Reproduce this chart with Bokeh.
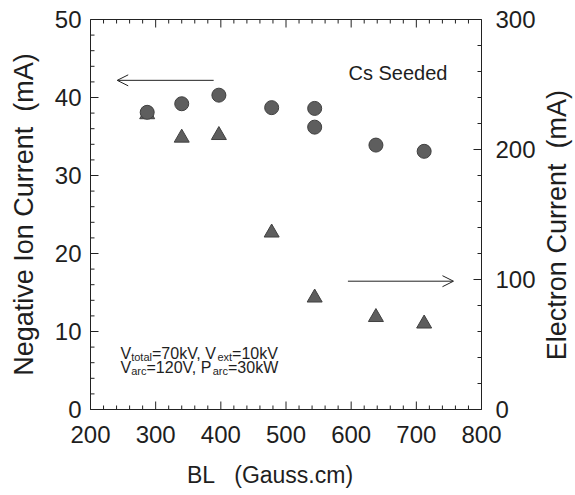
import math
from bokeh.plotting import figure
from bokeh.layouts import row
from bokeh.models import Range1d, LinearAxis, Label, Arrow, OpenHead, FixedTicker
from bokeh.core.properties import value
from bokeh.embed import file_html
from bokeh.resources import INLINE

# ---- data ----
bl_circle = [287, 340, 397, 478, 544, 544, 638, 712]
ion_current = [38.1, 39.2, 40.3, 38.7, 38.6, 36.2, 33.9, 33.1]
bl_triangle = [287, 340, 397, 478, 544, 638, 712]
electron_current = [227, 209, 211, 136, 86, 71, 66]

x_ticks = [200, 300, 400, 500, 600, 700, 800]
left_ticks = [0, 10, 20, 30, 40, 50]
right_ticks = [0, 100, 200, 300]

arrow_left = dict(x_start=389, x_end=241, y=42.2)       # ion-current units
arrow_right = dict(x_start=595, x_end=757, y=98.7)      # electron-current units

x_label = "BL\u00a0\u00a0\u00a0(Gauss.cm)"
left_label = "Negative Ion Current\u00a0\u00a0(mA)"
right_label = "Electron Current\u00a0\u00a0(mA)"

FONT = "Liberation Sans"
TXT = "#1e1e1e"
AX = "#222222"

W, H = 540, 495          # main plot; a 35px strip on the right holds the right label
STRIP_W = 35
B_LEFT, B_RIGHT, B_TOP, B_BOTTOM = 90, 59, 19, 86
FRAME_W = W - B_LEFT - B_RIGHT
FRAME_H = H - B_TOP - B_BOTTOM

p = figure(width=W, height=H,
           x_range=Range1d(x_ticks[0], x_ticks[-1]),
           y_range=Range1d(left_ticks[0], left_ticks[-1]),
           output_backend="svg", toolbar_location=None,
           min_border_left=B_LEFT, min_border_right=B_RIGHT,
           min_border_top=B_TOP, min_border_bottom=B_BOTTOM)
p.extra_y_ranges = {"elec": Range1d(right_ticks[0], right_ticks[-1])}
p.grid.visible = False
p.outline_line_color = AX
p.background_fill_color = "white"
p.border_fill_color = "white"


def minor(ticks, n=5):
    out = []
    for a, b in zip(ticks[:-1], ticks[1:]):
        step = (b - a) / n
        out += [a + k * step for k in range(1, n)]
    return out


def style(ax, ticks):
    ax.ticker = FixedTicker(ticks=ticks, minor_ticks=minor(ticks))
    ax.major_tick_in = 0
    ax.major_tick_out = 0
    ax.minor_tick_in = 0
    ax.minor_tick_out = 0
    ax.axis_line_color = AX
    ax.major_label_text_font = FONT
    ax.major_label_text_color = TXT
    ax.major_label_text_font_size = "24px"
    ax.axis_label_text_font = FONT
    ax.axis_label_text_font_style = "normal"
    ax.axis_label_text_color = TXT


xa = p.xaxis[0]
style(xa, x_ticks)
xa.major_label_standoff = 16
xa.axis_label = x_label + "\u00a0" * 5
xa.axis_label_text_font_size = "23px"
xa.axis_label_standoff = 16

ya = p.yaxis[0]
style(ya, left_ticks)
ya.major_label_standoff = 9
ya.axis_label = left_label
ya.axis_label_text_font_size = "27px"
ya.axis_label_standoff = 13

ra = LinearAxis(y_range_name="elec")
style(ra, right_ticks)
ra.major_label_standoff = 14
p.add_layout(ra, "right")

# ---- inward tick marks (drawn from the tick lists through the scales) ----
xpx = (x_ticks[-1] - x_ticks[0]) / FRAME_W          # data units per pixel
ypx = (left_ticks[-1] - left_ticks[0]) / FRAME_H
MAJ, MIN = 8, 4

for ticks, L in ((x_ticks, MAJ), (minor(x_ticks), MIN)):
    p.segment(x0=ticks, x1=ticks, y0=[left_ticks[0]] * len(ticks),
              y1=[left_ticks[0] + L * ypx] * len(ticks), line_color=AX, line_width=1)
    p.segment(x0=ticks, x1=ticks, y0=[left_ticks[-1]] * len(ticks),
              y1=[left_ticks[-1] - L * ypx] * len(ticks), line_color=AX, line_width=1)
for ticks, L in ((left_ticks, MAJ), (minor(left_ticks), MIN)):
    p.segment(x0=[x_ticks[0]] * len(ticks), x1=[x_ticks[0] + L * xpx] * len(ticks),
              y0=ticks, y1=ticks, line_color=AX, line_width=1)
for ticks, L in ((right_ticks, MAJ), (minor(right_ticks), MIN)):
    p.segment(x0=[x_ticks[-1]] * len(ticks), x1=[x_ticks[-1] - L * xpx] * len(ticks),
              y0=ticks, y1=ticks, y_range_name="elec", line_color=AX, line_width=1)

# ---- data marks ----
p.scatter(bl_triangle, electron_current, y_range_name="elec", marker="triangle",
          size=15, fill_color="#5e5e5e", line_color="#404040", line_width=1)
p.scatter(bl_circle, ion_current, marker="circle",
          size=14, fill_color="#5e5e5e", line_color="#404040", line_width=1)

# ---- arrows ----
p.add_layout(Arrow(end=OpenHead(size=11, line_width=1, line_color=AX),
                   x_start=arrow_left["x_start"], y_start=arrow_left["y"],
                   x_end=arrow_left["x_end"], y_end=arrow_left["y"],
                   line_width=1, line_color=AX))
p.add_layout(Arrow(end=OpenHead(size=11, line_width=1, line_color=AX),
                   x_start=arrow_right["x_start"], y_start=arrow_right["y"],
                   x_end=arrow_right["x_end"], y_end=arrow_right["y"],
                   y_range_name="elec", line_width=1, line_color=AX))

# ---- texts ----
p.add_layout(Label(x=258, y=337, x_units="screen", y_units="screen",
                   text="Cs Seeded", text_font=FONT, text_font_size="20px",
                   text_color=TXT, text_baseline="alphabetic"))

MAIN, SUB = 16, 11
line1 = [("V", 0.0, MAIN), ("total", 10.7, SUB), ("=70kV, V", 31.5, MAIN),
         ("ext", 96.9, SUB), ("=10kV", 111.6, MAIN)]
line2 = [("V", 0.0, MAIN), ("arc", 10.7, SUB), ("=120V, P", 26.0, MAIN),
         ("arc", 92.2, SUB), ("=30kW", 107.5, MAIN)]
for pieces, base in ((line1, 56), (line2, 42)):
    for txt, dx, sz in pieces:
        p.add_layout(Label(x=30 + dx, y=base - (3 if sz == SUB else 0),
                           x_units="screen", y_units="screen", text=txt,
                           text_font=FONT, text_font_size=f"{sz}px",
                           text_color=TXT, text_baseline="alphabetic"))

# ---- right-hand axis title in a narrow strip ----
q = figure(width=STRIP_W, height=H, x_range=Range1d(0, STRIP_W), y_range=Range1d(0, H),
           x_axis_type=None, y_axis_type=None, output_backend="svg",
           toolbar_location=None, min_border=0)
q.grid.visible = False
q.outline_line_color = None
q.background_fill_color = "white"
q.border_fill_color = "white"
q.text(x=[16], y=[234], text=[right_label], angle=math.pi / 2,
       text_align="center", text_baseline="middle",
       text_font=value(FONT), text_font_size=value("27px"), text_color=TXT)

layout = row(p, q, spacing=0)
open("out.html", "w").write(file_html(layout, INLINE))
